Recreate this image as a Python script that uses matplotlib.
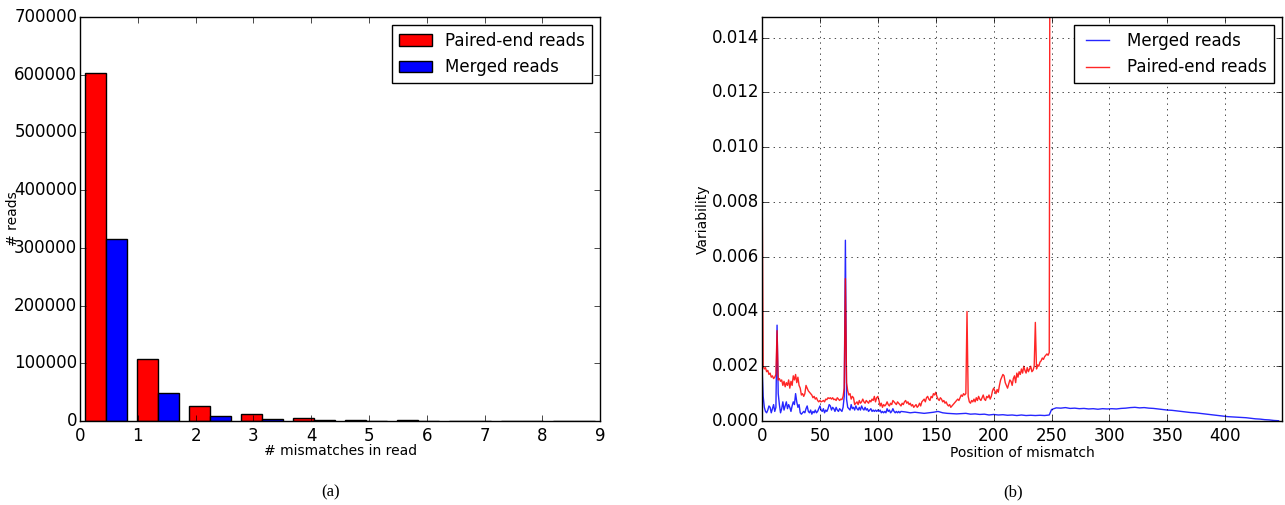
import matplotlib
matplotlib.use('Agg')
import matplotlib.pyplot as plt
import numpy as np

plt.style.use('classic')
plt.rcParams['font.family'] = 'DejaVu Sans'
plt.rcParams['font.size'] = 12
plt.rcParams['axes.labelsize'] = 10
plt.rcParams['ytick.major.pad'] = 2
plt.rcParams['figure.facecolor'] = 'white'
plt.rcParams['savefig.facecolor'] = 'white'

# (a) number of reads per mismatch count
mismatches = [0, 1, 2, 3, 4, 5, 6, 7, 8, 9]
paired_counts = [603000, 108000, 26500, 11500, 5800, 2600, 1000, 700, 200, 100]
merged_counts = [315000, 48500, 8800, 3300, 1200, 400, 150, 50, 0, 0]

# (b) variability per position (x1e-3)
paired_var = [
    9.6, 2.0, 1.9, 1.95, 1.8, 1.85, 1.7, 1.75, 1.6, 1.65,
    1.55, 1.6, 1.7, 3.3, 1.5, 1.55, 1.45, 1.5, 1.3, 1.45,
    1.25, 1.4, 1.3, 1.5, 1.2, 1.45, 1.3, 1.65, 1.5, 1.7,
    1.4, 1.6, 1.3, 1.2, 0.95, 1.0, 0.9, 1.0, 1.3, 1.2,
    1.1, 1.05, 1.0, 0.95, 0.85, 0.9, 0.8, 0.85, 0.75, 0.7,
    0.75, 0.7, 0.72, 0.75, 0.7, 0.8, 0.78, 0.85, 0.82, 0.85,
    0.8, 0.85, 0.78, 0.8, 0.75, 0.85, 0.8, 0.75, 0.8, 0.78,
    0.9, 1.2, 5.2, 1.4, 1.1, 0.95, 1.0, 0.8, 0.9, 0.85,
    0.6, 0.65, 0.7, 0.6, 0.75, 0.65, 0.7, 0.8, 0.7, 0.65,
    0.75, 0.7, 0.65, 0.75, 0.7, 0.8, 0.75, 0.9, 0.7, 0.85,
    0.9, 0.75, 0.55, 0.65, 0.5, 0.6, 0.55, 0.6, 0.7, 0.6,
    0.55, 0.65, 0.6, 0.75, 0.7, 0.65, 0.6, 0.7, 0.65, 0.6,
    0.55, 0.65, 0.6, 0.7, 0.75, 0.65, 0.7, 0.6, 0.65, 0.55,
    0.6, 0.5, 0.55, 0.6, 0.5, 0.55, 0.65, 0.55, 0.7, 0.75,
    0.8, 0.7, 0.85, 0.9, 0.8, 0.75, 0.9, 0.85, 1.0, 0.95,
    1.05, 0.9, 0.8, 0.75, 0.85, 0.8, 0.7, 0.75, 0.65, 0.7,
    0.6, 0.55, 0.6, 0.5, 0.55, 0.6, 0.65, 0.7, 0.75, 0.8,
    0.75, 0.85, 0.95, 0.9, 1.0, 0.95, 1.0, 4.0, 0.9, 0.7,
    0.65, 0.75, 0.7, 0.8, 0.7, 0.85, 0.75, 0.9, 0.8, 0.75,
    0.85, 0.95, 0.8, 0.75, 0.9, 0.85, 0.95, 0.8, 0.9, 1.1,
    1.2, 1.1, 1.0, 1.15, 1.05, 1.3, 1.5, 1.6, 1.7, 1.65,
    1.4, 1.3, 1.2, 1.35, 1.5, 1.45, 1.3, 1.55, 1.65, 1.4,
    1.75, 1.6, 1.8, 1.7, 1.9, 1.75, 2.0, 1.85, 1.75, 1.95,
    1.8, 1.9, 2.0, 1.8, 1.85, 2.0, 3.6, 1.9, 2.05, 2.0,
    2.15, 2.2, 2.3, 2.25, 2.35, 2.4, 2.45, 2.4, 2.5, 30.0,
]

# merged reads: every position up to 120, then every 4th
merged_var_head = [
    2.0, 0.9, 0.5, 0.35, 0.3, 0.4, 0.55, 0.5, 0.3, 0.45,
    0.6, 0.35, 0.5, 3.5, 1.0, 0.6, 0.3, 0.45, 0.7, 0.4,
    0.55, 0.7, 0.45, 0.6, 0.5, 0.35, 0.55, 0.7, 0.6, 1.0,
    0.7, 0.5, 0.6, 0.3, 0.25, 0.3, 0.35, 0.3, 0.45, 0.55,
    0.35, 0.3, 0.4, 0.25, 0.35, 0.3, 0.4, 0.3, 0.35, 0.45,
    0.55, 0.4, 0.35, 0.45, 0.3, 0.4, 0.35, 0.45, 0.6, 0.55,
    0.4, 0.5, 0.45, 0.35, 0.5, 0.4, 0.35, 0.45, 0.4, 0.35,
    0.5, 0.9, 6.6, 0.8, 0.5, 0.45, 0.4, 0.6, 0.45, 0.5,
    0.4, 0.55, 0.45, 0.4, 0.5, 0.4, 0.55, 0.45, 0.4, 0.5,
    0.4, 0.45, 0.35, 0.4, 0.45, 0.35, 0.4, 0.35, 0.4, 0.35,
    0.4, 0.35, 0.4, 0.3, 0.35, 0.3, 0.35, 0.3, 0.45, 0.35,
    0.4, 0.3, 0.35, 0.45, 0.35, 0.3, 0.35, 0.3, 0.35, 0.3,
    0.35,
]
merged_var_mid = [  # 124 .. 248
    0.33, 0.3, 0.32, 0.3, 0.28, 0.3, 0.32, 0.35, 0.3, 0.28,
    0.27, 0.26, 0.27, 0.28, 0.25, 0.26, 0.24, 0.25, 0.22, 0.24,
    0.22, 0.23, 0.21, 0.22, 0.2, 0.22, 0.2, 0.21, 0.2, 0.21,
    0.2, 0.22,
]
merged_var_tail = [  # 250 .. 446
    0.42, 0.48, 0.47, 0.49, 0.46, 0.47, 0.45, 0.46, 0.44, 0.45,
    0.43, 0.45, 0.44, 0.45, 0.44, 0.46, 0.47, 0.49, 0.5, 0.48,
    0.49, 0.47, 0.46, 0.44, 0.42, 0.4, 0.39, 0.37, 0.35, 0.33,
    0.31, 0.3, 0.28, 0.26, 0.24, 0.22, 0.2, 0.18, 0.16, 0.15,
    0.14, 0.13, 0.12, 0.1, 0.08, 0.07, 0.05, 0.04, 0.02, 0.01,
]

pos_paired = np.arange(len(paired_var))
pos_merged = np.concatenate([
    np.arange(len(merged_var_head)),
    np.arange(124, 124 + 4 * len(merged_var_mid), 4),
    np.arange(250, 250 + 4 * len(merged_var_tail), 4),
])
merged_var = np.array(merged_var_head + merged_var_mid + merged_var_tail) * 1e-3
paired_var = np.array(paired_var) * 1e-3

fig = plt.figure(figsize=(12.85, 5.05), dpi=100)
ax1 = fig.add_axes([0.0623, 0.1663, 0.4047, 0.8])
ax2 = fig.add_axes([0.593, 0.1663, 0.4047, 0.8])

bins = np.linspace(0, 9, 11)
ax1.hist([mismatches, mismatches], bins=bins, weights=[paired_counts, merged_counts],
         color=['red', 'blue'], label=['Paired-end reads', 'Merged reads'])
ax1.set_xlim(0, 9)
ax1.set_ylim(0, 700000)
ax1.set_xticks(range(0, 10))
ax1.set_yticks(range(0, 700001, 100000))
ax1.set_xlabel('# mismatches in read')
ax1.set_ylabel('# reads')
ax1.xaxis.set_label_coords(0.5, -0.058)
ax1.yaxis.set_label_coords(-0.115, 0.5)
ax1.legend(loc='upper right', fontsize=12)

ax2.plot(pos_merged, merged_var, color='blue', lw=1, alpha=0.85, label='Merged reads')
ax2.plot(pos_paired, paired_var, color='red', lw=1, alpha=0.85, label='Paired-end reads')
ax2.set_xlim(0, 449)
ax2.set_ylim(0, 0.01475)
ax2.set_xticks(range(0, 401, 50))
ax2.set_yticks(np.arange(0, 0.0141, 0.002))
ax2.grid(True)
ax2.set_xlabel('Position of mismatch')
ax2.set_ylabel('Variability')
ax2.xaxis.set_label_coords(0.5, -0.063)
ax2.yaxis.set_label_coords(-0.1, 0.5)
ax2.legend(loc='upper right', fontsize=12)

fig.text(0.2576, 0.024, '(a)', ha='center', va='center', family='Liberation Serif', fontsize=12)
fig.text(0.788, 0.024, '(b)', ha='center', va='center', family='Liberation Serif', fontsize=12)

fig.savefig('out.png', dpi=100)
